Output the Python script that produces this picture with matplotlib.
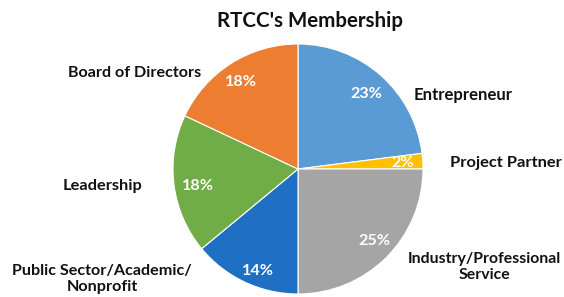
import matplotlib
matplotlib.use("Agg")
import matplotlib.pyplot as plt

categories = ["Entrepreneur", "Project Partner", "Industry/Professional\nService",
              "Public Sector/Academic/\nNonprofit", "Leadership", "Board of Directors"]
values = [23, 2, 25, 14, 18, 18]
colors = ["#5B9BD5", "#FFC000", "#A5A5A5", "#1F6FC4", "#70AD47", "#ED7D31"]
title = "RTCC's Membership"

plt.rcParams['font.family'] = ['Lato', 'DejaVu Sans']

W, H = 564, 297
fig = plt.figure(figsize=(W / 100, H / 100), dpi=100)
cx, cy, R = 298, 169, 125
ax = fig.add_axes([(cx - R) / W, (H - cy - R) / H, 2 * R / W, 2 * R / H])

wedges, texts, autotexts = ax.pie(values, colors=colors, startangle=90, counterclock=False,
                                  autopct=lambda p: f"{p:.0f}%", labels=categories,
                                  wedgeprops=dict(edgecolor="white", linewidth=0.8))
ax.set_xlim(-1, 1)
ax.set_ylim(-1, 1)
ax.set_aspect('auto')

renderer = fig.canvas.get_renderer()

def fit_size(s, target_px, weight='bold'):
    t = fig.text(0, 0, s, fontsize=10, fontweight=weight)
    w = t.get_window_extent(renderer).width
    t.remove()
    return 10 * target_px / w

def to_data(px, py):
    return ((px - cx) / R, (cy - py) / R)

# (center x, center y, reference line, reference width px)
label_layout = [
    (463, 95, "Entrepreneur", 100),
    (506, 163, "Project Partner", 112),
    (484, 267, "Industry/Professional", 154),
    (102, 279, "Public Sector/Academic/", 180),
    (102, 186, "Leadership", 80),
    (135, 73, "Board of Directors", 134),
]
pct_pos = [(366, 94), (403, 163), (374, 241), (258, 271), (198, 186), (241, 82)]
pct_size = fit_size("23%", 32)

for t, (px, py, ref, wpx) in zip(texts, label_layout):
    t.set_position(to_data(px, py))
    t.set_ha('center')
    t.set_va('center')
    t.set_fontsize(fit_size(ref, wpx))
    t.set_fontweight('bold')
    t.set_color('#111111')
    t.set_linespacing(1.2)
    t.set_clip_on(False)

for t, (px, py) in zip(autotexts, pct_pos):
    t.set_position(to_data(px, py))
    t.set_ha('center')
    t.set_va('center')
    t.set_fontsize(pct_size)
    t.set_fontweight('bold')
    t.set_color('white')

fig.text(310 / W, 1 - 21 / H, title, ha='center', va='center',
         fontsize=fit_size(title, 186), fontweight='bold', color='#111111')

fig.savefig("out.png", dpi=100)
